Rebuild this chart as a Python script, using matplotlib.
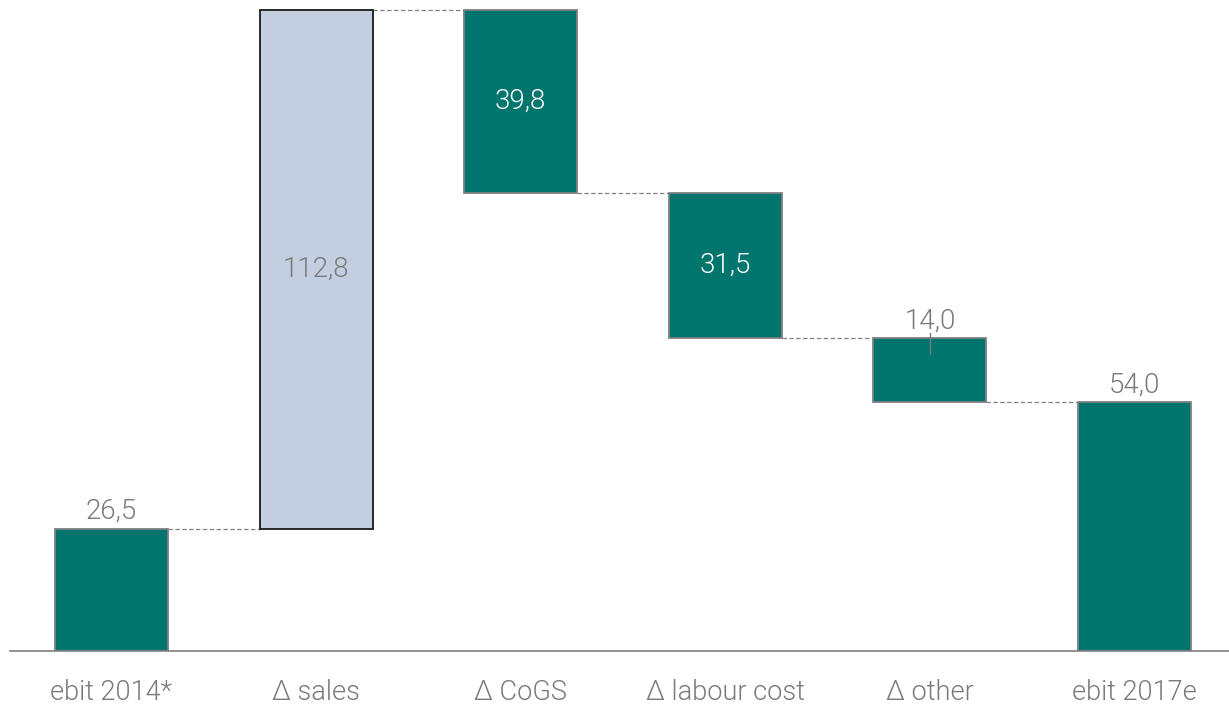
import matplotlib.pyplot as plt

categories = ["ebit 2014*", "Δ sales", "Δ CoGS", "Δ labour cost", "Δ other", "ebit 2017e"]
values = [26.5, 112.8, -39.8, -31.5, -14.0, 54.0]
kinds = ["total", "delta", "delta", "delta", "delta", "total"]
labels = ["26,5", "112,8", "39,8", "31,5", "14,0", "54,0"]

TEAL = "#00756E"
LIGHT = "#C3CEE0"
GREY = "#7a7a7a"
W = 300

plt.rcParams["font.family"] = ["Roboto", "DejaVu Sans"]

fig = plt.figure(figsize=(12.29, 7.06), dpi=100)
ax = fig.add_axes([10 / 1229, 55 / 706, 1219 / 1229, 651 / 706])

width = 0.552
bottoms, tops = [], []
running = 0.0
for v, k in zip(values, kinds):
    if k == "total":
        b, t = 0.0, v
        running = v
    else:
        start = running
        running = running + v
        b, t = min(start, running), max(start, running)
    bottoms.append(b)
    tops.append(t)

for i, (b, t, v) in enumerate(zip(bottoms, tops, values)):
    positive_delta = kinds[i] == "delta" and v > 0
    ax.bar(i, t - b, bottom=b, width=width,
           color=LIGHT if positive_delta else TEAL,
           edgecolor="#1a1a1a" if positive_delta else "#808080",
           linewidth=1.3, zorder=3)

# dashed connectors between consecutive bars
level = 0.0
for i in range(len(values) - 1):
    level = values[i] if kinds[i] == "total" else level + values[i]
    ax.plot([i + width / 2, i + 1 - width / 2], [level, level],
            ls=(0, (3.5, 2)), color="#808080", lw=0.9, zorder=2)

# value labels
for i, (b, t, lab) in enumerate(zip(bottoms, tops, labels)):
    if kinds[i] == "total":
        ax.text(i, t + 0.9, lab, ha="center", va="bottom", fontsize=20,
                color=GREY, fontweight=W)
    elif i == 4:
        ax.text(i, t + 0.7, lab, ha="center", va="bottom", fontsize=20,
                color=GREY, fontweight=W)
        ax.plot([i, i], [t + 1.0, t - 3.5], color=GREY, lw=1.0, zorder=4)
    else:
        ax.text(i, (b + t) / 2, lab, ha="center", va="center", fontsize=20,
                color="white" if values[i] < 0 else GREY, fontweight=W,
                zorder=5)

ax.set_xlim(-0.496, 5.462)
ax.set_ylim(0, 141.4)
ax.set_xticks(range(len(categories)))
ax.set_xticklabels(categories, fontsize=19.5, color=GREY, fontweight=W)
ax.tick_params(axis="x", length=0, pad=20)
ax.set_yticks([])
for side in ["top", "right", "left"]:
    ax.spines[side].set_visible(False)
ax.spines["bottom"].set_color("#808080")
ax.spines["bottom"].set_linewidth(1.2)
ax.spines["bottom"].set_zorder(4)
ax.patch.set_alpha(0)

fig.savefig("out.png", dpi=100)
